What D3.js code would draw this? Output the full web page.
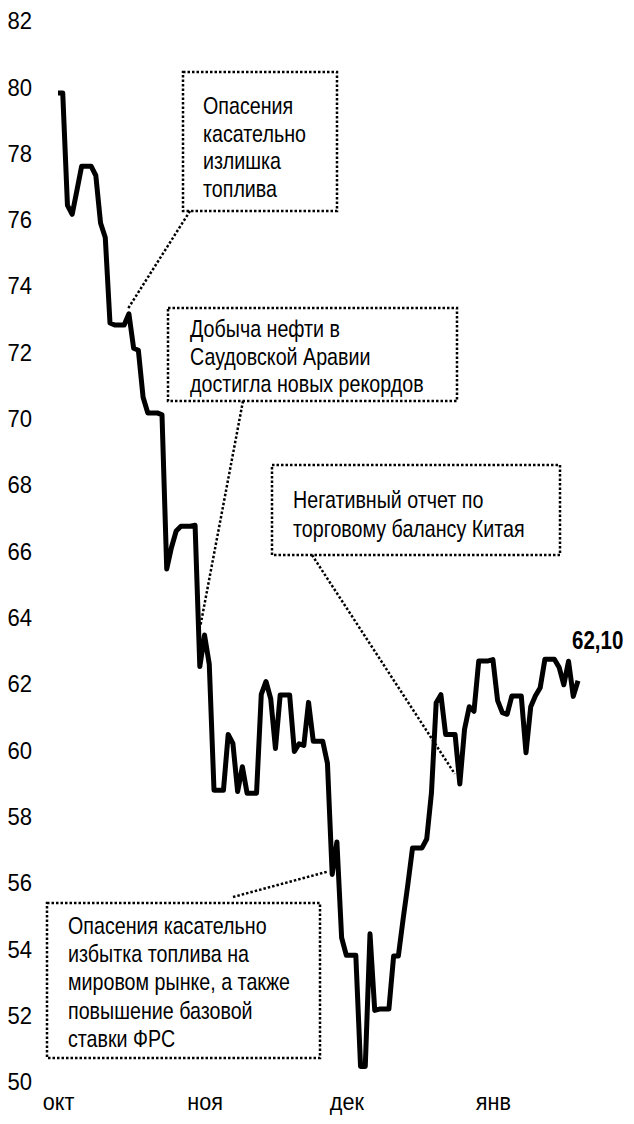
<!DOCTYPE html>
<html>
<head>
<meta charset="utf-8">
<script src="https://cdn.jsdelivr.net/npm/d3@7"></script>
<style>
  body { margin: 0; background: #fff; }
  text { font-family: "Liberation Sans", Arial, sans-serif; fill: #000; }
</style>
</head>
<body>
<svg width="634" height="1124"></svg>
<script>
// daily Brent closes, weekends carry the Friday value
var dates = [
  "2018-10-21","2018-10-22","2018-10-23","2018-10-24","2018-10-25","2018-10-26","2018-10-27","2018-10-28","2018-10-29","2018-10-30","2018-10-31",
  "2018-11-01","2018-11-02","2018-11-03","2018-11-04","2018-11-05","2018-11-06","2018-11-07","2018-11-08","2018-11-09","2018-11-10",
  "2018-11-11","2018-11-12","2018-11-13","2018-11-14","2018-11-15","2018-11-16","2018-11-17","2018-11-18","2018-11-19","2018-11-20",
  "2018-11-21","2018-11-22","2018-11-23","2018-11-24","2018-11-25","2018-11-26","2018-11-27","2018-11-28","2018-11-29","2018-11-30",
  "2018-12-01","2018-12-02","2018-12-03","2018-12-04","2018-12-05","2018-12-06","2018-12-07","2018-12-08","2018-12-09","2018-12-10",
  "2018-12-11","2018-12-12","2018-12-13","2018-12-14","2018-12-15","2018-12-16","2018-12-17","2018-12-18","2018-12-19","2018-12-20",
  "2018-12-21","2018-12-22","2018-12-23","2018-12-24","2018-12-25","2018-12-26","2018-12-27","2018-12-28","2018-12-29","2018-12-30",
  "2018-12-31","2019-01-01","2019-01-02","2019-01-03","2019-01-04","2019-01-05","2019-01-06","2019-01-07","2019-01-08","2019-01-09",
  "2019-01-10","2019-01-11","2019-01-12","2019-01-13","2019-01-14","2019-01-15","2019-01-16","2019-01-17","2019-01-18","2019-01-19",
  "2019-01-20","2019-01-21","2019-01-22","2019-01-23","2019-01-24","2019-01-25","2019-01-26","2019-01-27","2019-01-28","2019-01-29",
  "2019-01-30","2019-01-31","2019-02-01","2019-02-02","2019-02-03","2019-02-04","2019-02-05","2019-02-06","2019-02-07","2019-02-08"
];
var prices = [
  79.83,79.83,76.44,76.17,76.89,77.62,77.62,77.62,77.34,75.91,75.47,
  72.89,72.83,72.83,72.83,73.17,72.13,72.07,70.65,70.18,70.18,
  70.18,70.12,65.47,66.12,66.62,66.76,66.76,66.76,66.79,62.53,
  63.48,62.60,58.80,58.80,58.80,60.48,60.21,58.76,59.51,58.71,
  58.71,58.71,61.69,62.08,61.56,60.06,61.67,61.67,61.67,59.97,
  60.20,60.15,61.45,60.28,60.28,60.28,59.61,56.26,57.24,54.35,
  53.82,53.82,53.82,50.47,50.47,54.47,52.16,52.20,52.20,52.20,
  53.80,53.80,54.91,55.95,57.06,57.06,57.06,57.33,58.72,61.44,
  61.68,60.48,60.48,60.48,58.99,60.64,61.32,61.18,62.70,62.70,
  62.70,62.74,61.50,61.14,61.09,61.64,61.64,61.64,59.93,61.32,
  61.65,61.89,62.75,62.75,62.75,62.51,61.98,62.69,61.63,62.10
];
var yTicks = [50, 52, 54, 56, 58, 60, 62, 64, 66, 68, 70, 72, 74, 76, 78, 80, 82];
var monthTicks = ["2018-10-21", "2018-11-21", "2018-12-21", "2019-01-21"];
var monthLabels = ["окт", "ноя", "дек", "янв"];
var lastLabel = "62,10";

var noteTexts = [
  ["Опасения", "касательно", "излишка", "топлива"],
  ["Добыча нефти в", "Саудовской Аравии", "достигла новых рекордов"],
  ["Негативный отчет по", "торговому балансу Китая"],
  ["Опасения касательно", "избытка топлива на", "мировом рынке, а также", "повышение базовой", "ставки ФРС"]
];
var noteDates = ["2018-11-05", "2018-11-21", "2019-01-14", "2018-12-18"];

// layout of the callout boxes (px)
var boxes = [
  {x: 183, y: 72,  w: 154, h: 139, tx: 203, ty: 114, lh: 27.7, fx: 190, fy: 211, dx: -1, dy: -5},
  {x: 168, y: 308, w: 289, h: 93,  tx: 190, ty: 337, lh: 27.5, fx: 243, fy: 401, dx: -4, dy: -10},
  {x: 272, y: 465, w: 288, h: 90,  tx: 293, ty: 508, lh: 29,   fx: 312, fy: 555, dx: -5, dy: -10},
  {x: 47,  y: 903, w: 273, h: 155, tx: 68,  ty: 934, lh: 28.2, fx: 233, fy: 897, dx: -4, dy: -3}
];
var narrow = 0.82; // squeeze Arial-metric text to look like Arial Narrow

var parse = d3.utcParse("%Y-%m-%d");
var data = dates.map(function(d, i) { return {date: parse(d), value: prices[i]}; });

var svg = d3.select("svg");

var x = d3.scaleUtc()
    .domain([parse(dates[0]), parse(dates[dates.length - 1])])
    .range([58, 578]);
var y = d3.scaleLinear()
    .domain([50, 82])
    .range([1082, 21]);

// y axis: labels only
var yAxis = svg.append("g")
    .attr("transform", "translate(32,0)")
    .call(d3.axisLeft(y).tickValues(yTicks).tickSize(0).tickPadding(0));
yAxis.select(".domain").remove();
yAxis.attr("font-size", 24).attr("font-family", null);
yAxis.selectAll("text").attr("transform", "scale(0.92,1)");

// x axis: month labels only
var xAxis = svg.append("g")
    .attr("transform", "translate(0,1093)")
    .call(d3.axisBottom(x)
      .tickValues(monthTicks.map(parse))
      .tickFormat(function(d, i) { return monthLabels[i]; })
      .tickSize(0).tickPadding(0));
xAxis.select(".domain").remove();
xAxis.attr("font-size", 24).attr("font-family", null);
xAxis.selectAll("text").attr("transform", "scale(0.9,1)");

// callouts
boxes.forEach(function(b, i) {
  var g = svg.append("g");
  g.append("rect")
      .attr("x", b.x).attr("y", b.y)
      .attr("width", b.w).attr("height", b.h)
      .attr("fill", "none")
      .attr("stroke", "#000")
      .attr("stroke-width", 2.5)
      .attr("stroke-dasharray", "2.5 2");
  g.selectAll("text")
    .data(noteTexts[i])
    .enter().append("text")
      .attr("transform", function(d, j) {
        return "translate(" + b.tx + "," + (b.ty + j * b.lh) + ") scale(" + narrow + ",1)";
      })
      .attr("font-size", 24)
      .text(function(d) { return d; });
  var d0 = data.find(function(p) { return +p.date === +parse(noteDates[i]); });
  svg.append("line")
      .attr("x1", b.fx).attr("y1", b.fy)
      .attr("x2", x(d0.date) + b.dx).attr("y2", y(d0.value) + b.dy)
      .attr("stroke", "#000")
      .attr("stroke-width", 2.5)
      .attr("stroke-dasharray", "2.5 2");
});

var line = d3.line()
    .x(function(d) { return x(d.date); })
    .y(function(d) { return y(d.value); });

svg.append("path")
    .datum(data)
    .attr("fill", "none")
    .attr("stroke", "#000")
    .attr("stroke-width", 5)
    .attr("stroke-linejoin", "round")
    .attr("d", line);

var last = data[data.length - 1];
svg.append("text")
    .attr("transform", "translate(" + (x(last.date) - 6) + "," + (y(last.value) - 32) + ") scale(" + narrow + ",1)")
    .attr("font-size", 25)
    .attr("font-weight", "bold")
    .text(lastLabel);
</script>
</body>
</html>
